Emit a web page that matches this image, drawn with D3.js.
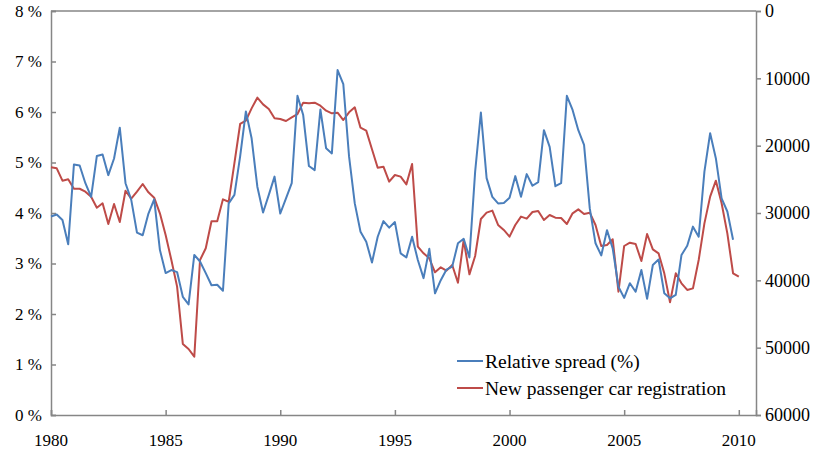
<!DOCTYPE html>
<html>
<head>
<meta charset="utf-8">
<script src="https://d3js.org/d3.v7.min.js"></script>
<style>
  body { margin: 0; background: #fff; }
  text { font-family: "Liberation Serif", "Times New Roman", serif; fill: #000; }
</style>
</head>
<body>
<div id="chart-area"></div>
<script>
// quarterly series, 1980Q1 onward
const startYear = 1980
const spread = [
  3.93, 3.97, 3.86, 3.38, 4.96, 4.94, 4.59, 4.32, 5.13, 5.16,
  4.75, 5.08, 5.69, 4.59, 4.26, 3.61, 3.56, 3.99, 4.27, 3.27,
  2.81, 2.87, 2.83, 2.34, 2.19, 3.17, 3.04, 2.81, 2.57, 2.58,
  2.46, 4.19, 4.36, 5.12, 6.01, 5.48, 4.52, 4.01, 4.36, 4.72,
  3.99, 4.29, 4.59, 6.32, 5.94, 4.93, 4.85, 6.05, 5.28, 5.18,
  6.83, 6.55, 5.12, 4.19, 3.63, 3.43, 3.02, 3.53, 3.84, 3.71,
  3.82, 3.2, 3.12, 3.53, 3.07, 2.71, 3.29, 2.41, 2.67, 2.88,
  2.94, 3.40, 3.49, 3.12, 4.82, 5.99, 4.69, 4.32, 4.19, 4.20,
  4.30, 4.73, 4.32, 4.77, 4.54, 4.61, 5.64, 5.31, 4.53, 4.59,
  6.32, 6.04, 5.64, 5.35, 4.09, 3.40, 3.16, 3.66, 3.30, 2.54,
  2.32, 2.61, 2.44, 2.87, 2.30, 2.97, 3.08, 2.41, 2.31, 2.38,
  3.17, 3.35, 3.73, 3.53, 4.82, 5.58, 5.08, 4.29, 4.03, 3.47
]
const registrations = [
  23213, 23361, 25200, 25000, 26400, 26400, 26830, 27580, 29210, 28560,
  31630, 28660, 31340, 26690, 27870, 26830, 25690, 26930, 27720, 30050,
  33270, 36980, 40940, 49450, 50200, 51340, 36980, 35240, 31230, 31230,
  27970, 28330, 22600, 16780, 16290, 14460, 12870, 13870, 14550, 15940,
  16040, 16340, 15790, 15300, 13610, 13710, 13610, 14060, 14800, 15200,
  15100, 16190, 15050, 14310, 17330, 17770, 20540, 23270, 23120, 25350,
  24360, 24600, 25750, 22720, 34990, 35990, 36730, 38810, 38070, 38560,
  37720, 40350, 34010, 39110, 36390, 30890, 29950, 29650, 31780, 32520,
  33510, 31780, 30540, 30840, 29850, 29700, 31040, 30300, 30690, 30740,
  31630, 30050, 29460, 30150, 29950, 31780, 34900, 34750, 33910, 41680,
  34900, 34410, 34600, 37130, 33120, 35400, 35990, 38960, 43260, 38960,
  40440, 41430, 41190, 36980, 31540, 27570, 25200, 28560, 33020, 38960,
  39460
]
const yearTicks = [1980, 1985, 1990, 1995, 2000, 2005, 2010]
const pctTicks = [0, 1, 2, 3, 4, 5, 6, 7, 8]
const regTicks = [0, 10000, 20000, 30000, 40000, 50000, 60000]
const seriesNames = ["Relative spread (%)", "New passenger car registration"]

const W = 816, H = 450
const MARGIN = { LEFT: 51, RIGHT: 60, TOP: 11, BOTTOM: 35 }
const AXIS = "#868686"
const BLUE = "#4a7ebb", RED = "#be4b48"

const svg = d3.select("#chart-area").append("svg")
  .attr("width", W)
  .attr("height", H)

const x = d3.scaleLinear()
  .domain([1980, 2010.75])
  .range([MARGIN.LEFT, W - MARGIN.RIGHT])

const yL = d3.scaleLinear()
  .domain([0, 8])
  .range([H - MARGIN.BOTTOM, MARGIN.TOP])

// secondary axis is reversed: 0 at top
const yR = d3.scaleLinear()
  .domain([0, 60000])
  .range([MARGIN.TOP, H - MARGIN.BOTTOM])

const t = i => startYear + i / 4

// top frame line
svg.append("line")
  .attr("x1", MARGIN.LEFT).attr("x2", W - MARGIN.RIGHT)
  .attr("y1", MARGIN.TOP).attr("y2", MARGIN.TOP)
  .attr("stroke", AXIS).attr("stroke-width", 1.5)

// Left axis (ticks inside)
svg.append("g")
  .attr("transform", `translate(${MARGIN.LEFT},0)`)
  .call(d3.axisRight(yL).tickValues(pctTicks).tickSize(5).tickFormat(""))
svg.selectAll(".lbl-left").data(pctTicks).enter().append("text")
  .attr("class", "lbl-left")
  .attr("x", 42)
  .attr("y", d => yL(d))
  .attr("dy", "0.35em")
  .attr("text-anchor", "end")
  .attr("font-size", "17px")
  .text(d => d + " %")

// Right axis (ticks outside)
svg.append("g")
  .attr("transform", `translate(${W - MARGIN.RIGHT},0)`)
  .call(d3.axisRight(yR).tickValues(regTicks).tickSize(5).tickFormat(""))
svg.selectAll(".lbl-right").data(regTicks).enter().append("text")
  .attr("class", "lbl-right")
  .attr("x", W - MARGIN.RIGHT + 9)
  .attr("y", d => yR(d))
  .attr("dy", "0.35em")
  .attr("font-size", "18px")
  .text(d => d)

// Bottom axis (ticks inside)
svg.append("g")
  .attr("transform", `translate(0,${H - MARGIN.BOTTOM})`)
  .call(d3.axisTop(x).tickValues(yearTicks).tickSize(5).tickFormat(""))
svg.selectAll(".lbl-x").data(yearTicks).enter().append("text")
  .attr("class", "lbl-x")
  .attr("x", d => x(d))
  .attr("y", H - MARGIN.BOTTOM + 25)
  .attr("dy", "0.35em")
  .attr("text-anchor", "middle")
  .attr("font-size", "17px")
  .text(d => d)

svg.selectAll(".domain, .tick line")
  .attr("stroke", AXIS)
  .attr("stroke-width", 1.5)

// Lines
const lineL = d3.line().x((d, i) => x(t(i))).y(d => yL(d))
const lineR = d3.line().x((d, i) => x(t(i))).y(d => yR(d))

svg.append("path")
  .datum(registrations)
  .attr("fill", "none")
  .attr("stroke", RED)
  .attr("stroke-width", 2)
  .attr("stroke-linejoin", "round")
  .attr("d", lineR)

svg.append("path")
  .datum(spread)
  .attr("fill", "none")
  .attr("stroke", BLUE)
  .attr("stroke-width", 2)
  .attr("stroke-linejoin", "round")
  .attr("d", lineL)

// Legend
const legend = svg.append("g").attr("transform", "translate(457,361)")
const items = legend.selectAll("g").data(seriesNames).enter().append("g")
  .attr("transform", (d, i) => `translate(0,${i * 27})`)
items.append("line")
  .attr("x1", 0).attr("x2", 26)
  .attr("stroke", (d, i) => i === 0 ? BLUE : RED)
  .attr("stroke-width", 2)
items.append("text")
  .attr("x", 28)
  .attr("dy", "0.35em")
  .attr("font-size", "19.5px")
  .text(d => d)
</script>
</body>
</html>
